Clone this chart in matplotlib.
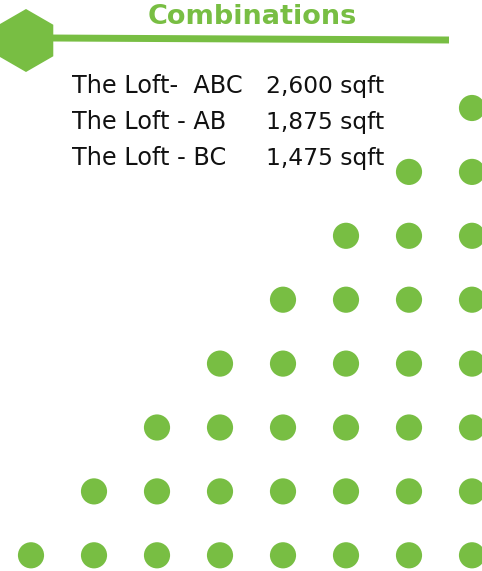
import matplotlib
matplotlib.use("Agg")
import matplotlib.pyplot as plt
from matplotlib.patches import RegularPolygon
import numpy as np

GREEN = "#78BE43"

title = "Combinations"
rooms = ["The Loft-  ABC", "The Loft - AB", "The Loft - BC"]
areas = ["2,600 sqft", "1,875 sqft", "1,475 sqft"]

# staircase dot grid: number of dots per row, top row first (right aligned)
dots_per_row = [1, 2, 3, 4, 5, 6, 7, 8]
n_cols = 8

fig = plt.figure(figsize=(4.82, 5.71), dpi=100)
ax = fig.add_axes([0, 0, 1, 1])
ax.set_xlim(0, 482)
ax.set_ylim(571, 0)
ax.axis("off")

# hexagon + line
ax.add_patch(RegularPolygon((26, 40.5), numVertices=6, radius=31.5, orientation=0,
                            facecolor=GREEN, edgecolor="none"))
ax.plot([50, 449], [38, 40], color=GREEN, lw=5, solid_capstyle="butt")

ax.text(252, 24, title, color=GREEN, fontsize=19.5, fontweight="bold",
        ha="center", va="baseline", family="DejaVu Sans")

for i, (r, a) in enumerate(zip(rooms, areas)):
    y = 93 + i * 36
    ax.text(72, y, r, fontsize=17.3, ha="left", va="baseline", color="#111111")
    ax.text(384, y, a, fontsize=16.8, ha="right", va="baseline", color="#111111")

# dots
x0, dx = 31, 63
y0, dy = 108, 63.9
xs, ys = [], []
for row, n in enumerate(dots_per_row):
    for c in range(n_cols - n, n_cols):
        xs.append(x0 + c * dx)
        ys.append(y0 + row * dy)
ax.scatter(xs, ys, s=355, color=GREEN, edgecolors="none", clip_on=True)

fig.savefig("out.png", dpi=100)
